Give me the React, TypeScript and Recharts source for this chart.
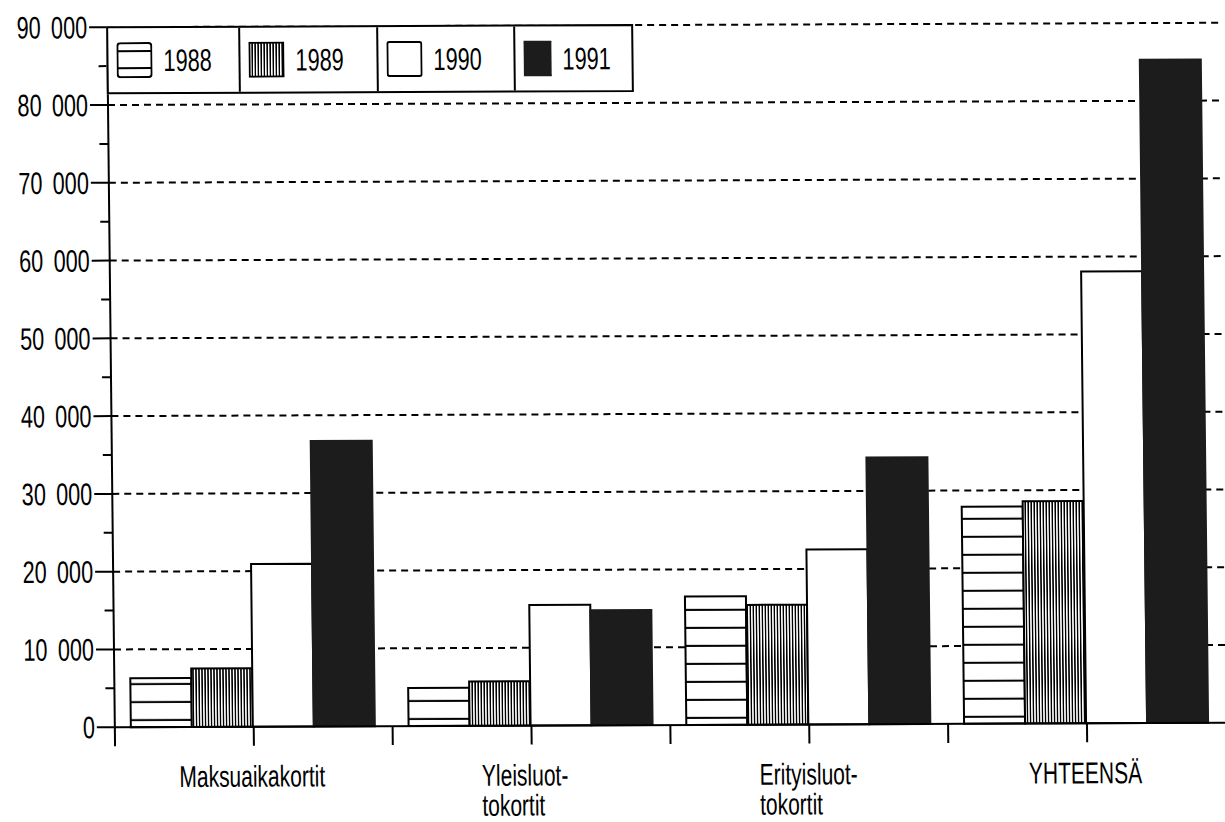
import React from 'react';
import { BarChart, Bar, XAxis, YAxis, CartesianGrid, Legend } from 'recharts';

const CATEGORIES = ['Maksuaikakortit', 'Yleisluot-\ntokortit', 'Erityisluot-\ntokortit', 'YHTEENSÄ'];
const YEARS = ['1988', '1989', '1990', '1991'];
const VALUES_1988 = [6300, 4900, 16500, 27900];
const VALUES_1989 = [7500, 5700, 15400, 28600];
const VALUES_1990 = [20900, 15500, 22500, 58100];
const VALUES_1991 = [36700, 14800, 34300, 85300];
const Y_TICKS = [0, 5000, 10000, 15000, 20000, 25000, 30000, 35000, 40000, 45000, 50000, 55000, 60000, 65000, 70000, 75000, 80000, 85000, 90000];
const GRID_VALUES = [10000, 20000, 30000, 40000, 50000, 60000, 70000, 80000, 90000];

const data = CATEGORIES.map((name, i) => ({
  name,
  y1988: VALUES_1988[i],
  y1989: VALUES_1989[i],
  y1990: VALUES_1990[i],
  y1991: VALUES_1991[i],
}));

const FONT = "'Liberation Sans', Arial, sans-serif";
const SCALE_X = 0.7;
const DARK = '#1c1c1c';

const fmt = (v: number) => (v === 0 ? '0' : `${v / 1000} 000`);

const YTick = (props: any) => {
  const { x, y, payload } = props;
  const v = payload.value as number;
  const major = v % 10000 === 0;
  return (
    <g>
      <line x1={x - (major ? 18 : 9)} x2={x} y1={y} y2={y} stroke="#000" strokeWidth={2} />
      {major && (
        <g transform={`translate(${x - 20},${y + 11}) scale(${SCALE_X},1)`}>
          <text x={0} y={0} textAnchor="end" fontSize={31} fontFamily={FONT} fill="#000" wordSpacing={6}>
            {fmt(v)}
          </text>
        </g>
      )}
    </g>
  );
};

const XTick = (props: any) => {
  const { x, y, payload } = props;
  const half = payload && payload.offset > 0 ? payload.offset : 138.75;
  const lines = String(payload.value).split('\n');
  const multi = lines.length > 1;
  return (
    <g>
      <line x1={x} x2={x} y1={y} y2={y + 19} stroke="#000" strokeWidth={2} />
      <line x1={x - half} x2={x - half} y1={y} y2={y + 19} stroke="#000" strokeWidth={2} />
      <g transform={`translate(${multi ? x - 50 : x - 2},${y + 60}) scale(${SCALE_X},1)`}>
        <text x={0} y={0} textAnchor={multi ? 'start' : 'middle'} fontSize={30} fontFamily={FONT} fill="#000">
          {lines.map((l, i) => (
            <tspan key={i} x={0} dy={i === 0 ? 0 : 30}>
              {l}
            </tspan>
          ))}
        </text>
      </g>
    </g>
  );
};

const CELL_WIDTHS = [133, 140, 138, 116];

const LegendIcon = ({ year }: { year: string }) => {
  if (year === '1988') {
    return (
      <svg width={36} height={36}>
        <rect x={1} y={1} width={34} height={34} rx={3} fill="#fff" stroke="#000" strokeWidth={2} />
        <line x1={1} x2={35} y1={9} y2={9} stroke="#000" strokeWidth={2} />
        <line x1={1} x2={35} y1={26} y2={26} stroke="#000" strokeWidth={2} />
      </svg>
    );
  }
  if (year === '1989') {
    return (
      <svg width={36} height={36}>
        <rect x={1} y={1} width={34} height={34} fill="url(#pat-v)" stroke="#000" strokeWidth={2} />
      </svg>
    );
  }
  if (year === '1990') {
    return (
      <svg width={36} height={36}>
        <rect x={1} y={1} width={34} height={34} rx={2} fill="#fff" stroke="#000" strokeWidth={2} />
      </svg>
    );
  }
  return (
    <svg width={36} height={36}>
      <rect x={1} y={1} width={34} height={34} fill={DARK} stroke={DARK} strokeWidth={2} />
    </svg>
  );
};

const LegendBox = () => (
  <div
    style={{
      display: 'flex',
      border: '2px solid #000',
      background: '#fff',
      height: 68,
      width: 527,
      boxSizing: 'border-box',
    }}
  >
    {YEARS.map((yr, i) => (
      <div
        key={yr}
        style={{
          width: CELL_WIDTHS[i],
          boxSizing: 'border-box',
          borderRight: i < YEARS.length - 1 ? '2px solid #000' : 'none',
          display: 'flex',
          alignItems: 'center',
          paddingLeft: 8,
          overflow: 'visible',
        }}
      >
        <LegendIcon year={yr} />
        <span
          style={{
            display: 'inline-block',
            marginLeft: 11,
            fontSize: 31,
            fontFamily: FONT,
            color: '#000',
            transform: `scaleX(${SCALE_X})`,
            transformOrigin: 'left center',
            whiteSpace: 'nowrap',
            lineHeight: '31px',
          }}
        >
          {yr}
        </span>
      </div>
    ))}
  </div>
);

export default function App() {
  return (
    <div style={{ position: 'absolute', left: 0, top: 0, width: 1225, height: 822, overflow: 'hidden', background: '#fff' }}>
      <div
        style={{
          width: 1225,
          height: 822,
          transform: 'matrix(1, -0.004, 0.011, 1, 0, 0)',
          transformOrigin: '667px 376px',
        }}
      >
        <BarChart
          width={1225}
          height={822}
          data={data}
          margin={{ top: 25, right: 3, bottom: 0, left: 11 }}
          barCategoryGap={16}
          barGap={0}
        >
          <defs>
            <pattern id="pat-h" patternUnits="userSpaceOnUse" width={10} height={18}>
              <rect x={0} y={0} width={10} height={18} fill="#fff" />
              <rect x={0} y={15} width={10} height={2} fill="#000" />
            </pattern>
            <pattern id="pat-v" patternUnits="userSpaceOnUse" width={3} height={10}>
              <rect x={0} y={0} width={3} height={10} fill="#fff" />
              <rect x={0} y={0} width={1.5} height={10} fill="#000" />
            </pattern>
          </defs>
          <CartesianGrid
            vertical={false}
            horizontalValues={GRID_VALUES}
            stroke="#000"
            strokeWidth={2}
            strokeDasharray="7 5"
          />
          <XAxis
            dataKey="name"
            height={97}
            interval={0}
            tickSize={0}
            tickMargin={0}
            tickLine={false}
            axisLine={{ stroke: '#000', strokeWidth: 2 }}
            tick={<XTick />}
          />
          <YAxis
            width={100}
            domain={[0, 90000]}
            ticks={Y_TICKS}
            interval={0}
            tickSize={0}
            tickMargin={0}
            tickLine={false}
            axisLine={{ stroke: '#000', strokeWidth: 2 }}
            tick={<YTick />}
          />
          <Legend
            layout="vertical"
            align="center"
            verticalAlign="middle"
            wrapperStyle={{ left: 110, top: 24, width: 527, height: 68 }}
            content={<LegendBox />}
          />
          <Bar dataKey="y1988" name="1988" fill="url(#pat-h)" stroke="#000" strokeWidth={2} isAnimationActive={false} />
          <Bar dataKey="y1989" name="1989" fill="url(#pat-v)" stroke="#000" strokeWidth={2} isAnimationActive={false} />
          <Bar dataKey="y1990" name="1990" fill="#fff" stroke="#000" strokeWidth={2} isAnimationActive={false} />
          <Bar dataKey="y1991" name="1991" fill={DARK} stroke={DARK} strokeWidth={2} isAnimationActive={false} />
        </BarChart>
      </div>
    </div>
  );
}
